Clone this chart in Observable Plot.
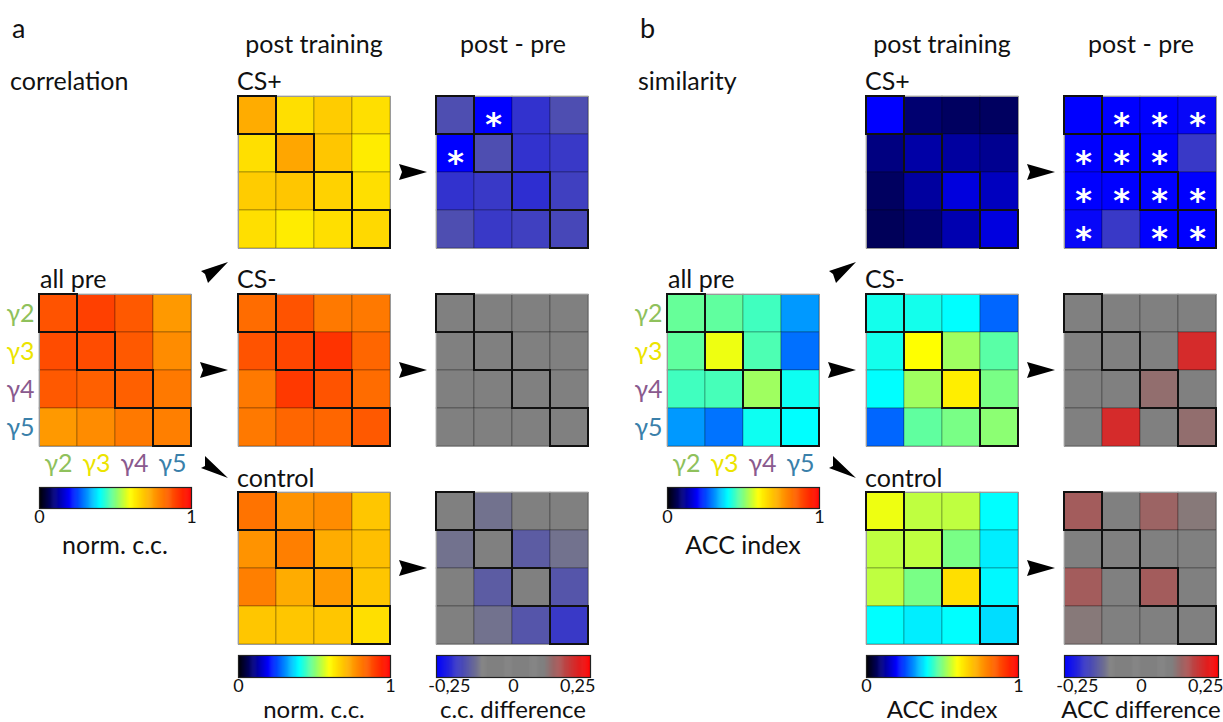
<!DOCTYPE html>
<html>
<head>
<meta charset="utf-8">
<script src="https://cdn.jsdelivr.net/npm/d3@7"></script>
<script src="https://cdn.jsdelivr.net/npm/@observablehq/plot@0.6"></script>
<style>
  html, body { margin: 0; padding: 0; background: #fff; }
  #root { position: relative; width: 1223px; height: 722px; overflow: hidden; font-family: Lato, "Open Sans", sans-serif; color: #111; }
  .abs { position: absolute; }
  .t { position: absolute; line-height: 1; white-space: nowrap; }
</style>
</head>
<body>
<div id="root"></div>
<script>
// ---------------- data ----------------
const gammas = ["γ2", "γ3", "γ4", "γ5"];
const gammaColors = ["#8fc15c", "#ece400", "#8a5a8e", "#3a80aa"];

// panel a: correlation (norm. c.c.)
const corrAllPre = [
  [0.87, 0.90, 0.86, 0.76],
  [0.88, 0.88, 0.86, 0.78],
  [0.86, 0.85, 0.85, 0.81],
  [0.76, 0.78, 0.81, 0.80]
];
const corrCSplus = [
  [0.73, 0.65, 0.68, 0.65],
  [0.65, 0.74, 0.69, 0.63],
  [0.68, 0.69, 0.67, 0.65],
  [0.65, 0.63, 0.65, 0.66]
];
const corrCSminus = [
  [0.83, 0.87, 0.81, 0.81],
  [0.87, 0.89, 0.92, 0.84],
  [0.81, 0.91, 0.87, 0.83],
  [0.81, 0.84, 0.84, 0.86]
];
const corrControl = [
  [0.82, 0.77, 0.78, 0.69],
  [0.77, 0.80, 0.73, 0.70],
  [0.80, 0.73, 0.76, 0.69],
  [0.69, 0.69, 0.69, 0.65]
];
const corrDiffCSplus = [
  [-0.19, -0.32, -0.23, -0.19],
  [-0.32, -0.19, -0.23, -0.22],
  [-0.23, -0.22, -0.235, -0.21],
  [-0.19, -0.22, -0.21, -0.20]
];
const corrDiffCSminus = [
  [0.02, -0.03, 0.01, 0.04],
  [-0.02, 0.03, -0.05, 0.02],
  [0.01, -0.06, 0.02, -0.01],
  [0.03, 0.00, -0.02, 0.04]
];
const corrDiffControl = [
  [0.00, -0.14, -0.05, -0.03],
  [-0.14, -0.08, -0.17, -0.14],
  [-0.04, -0.17, -0.02, -0.18],
  [-0.03, -0.14, -0.18, -0.22]
];
const corrStarsCSplus = [[0, 1], [1, 0]];

// panel b: similarity (ACC index)
const simAllPre = [
  [0.48, 0.475, 0.45, 0.32],
  [0.475, 0.587, 0.46, 0.288],
  [0.45, 0.455, 0.525, 0.41],
  [0.32, 0.29, 0.41, 0.40]
];
const simCSplus = [
  [0.20, 0.088, 0.075, 0.075],
  [0.10, 0.13, 0.125, 0.113],
  [0.075, 0.125, 0.173, 0.15],
  [0.07, 0.088, 0.138, 0.175]
];
const simCSminus = [
  [0.415, 0.415, 0.40, 0.28],
  [0.415, 0.60, 0.525, 0.47],
  [0.40, 0.525, 0.627, 0.495],
  [0.28, 0.475, 0.495, 0.51]
];
const simControl = [
  [0.587, 0.55, 0.55, 0.40],
  [0.55, 0.55, 0.495, 0.387],
  [0.55, 0.495, 0.65, 0.395],
  [0.40, 0.387, 0.40, 0.373]
];
const simDiffCSplus = [
  [-0.32, -0.32, -0.32, -0.29],
  [-0.32, -0.32, -0.32, -0.22],
  [-0.32, -0.32, -0.32, -0.32],
  [-0.29, -0.22, -0.32, -0.32]
];
const simDiffCSminus = [
  [0.02, 0.01, 0.00, 0.03],
  [0.00, 0.05, 0.02, 0.24],
  [0.01, 0.00, 0.145, 0.04],
  [0.00, 0.24, 0.03, 0.145]
];
const simDiffControl = [
  [0.17, 0.05, 0.16, 0.13],
  [0.03, 0.02, 0.06, 0.04],
  [0.17, 0.05, 0.17, 0.08],
  [0.13, 0.06, 0.02, 0.07]
];
const simStarsCSplus = [[0,1],[0,2],[0,3],[1,0],[1,1],[1,2],[2,0],[2,1],[2,2],[2,3],[3,0],[3,2],[3,3]];

const jetTicks = [0, 1];
const diffTicks = [-0.25, 0, 0.25];

// ---------------- scales ----------------
const FONT = 'Lato, "Open Sans", sans-serif';
const jetScale = {
  type: "linear",
  domain: [0, 0.2, 0.4, 0.6, 1],
  range: ["#000000", "#0000ff", "#00ffff", "#ffff00", "#ff0000"],
  interpolate: "rgb",
  clamp: true
};
const diffScale = {
  type: "linear",
  domain: [-0.3, -0.12, 0.12, 0.3],
  range: ["#0000ff", "#808080", "#808080", "#ff0000"],
  interpolate: "rgb",
  clamp: true
};

const root = document.getElementById("root");

function place(el, left, top) {
  el.classList.add("abs");
  el.style.left = left + "px";
  el.style.top = top + "px";
  root.appendChild(el);
}

function text(str, x, y, size, anchor = "start", lh = 1) {
  const d = document.createElement("div");
  d.className = "t";
  d.textContent = str;
  d.style.left = x + "px";
  d.style.top = y + "px";
  d.style.fontSize = size + "px";
  d.style.lineHeight = String(lh);
  d.style.transform = anchor === "middle" ? "translate(-50%,-50%)" : "translate(0,-50%)";
  root.appendChild(d);
}

const SIZE = 152;

function heatmap(vals, scale, left, top, stars = [], labeled = false) {
  const data = vals.flatMap((row, i) => row.map((v, j) => ({row: gammas[i], col: gammas[j], v})));
  const diag = gammas.map(g => ({row: g, col: g}));
  const starData = stars.map(([i, j]) => ({row: gammas[i], col: gammas[j]}));
  const m = 3;
  const mL = labeled ? 44 : m;
  const mB = labeled ? 40 : m;
  const labelMarks = labeled ? [
    ...gammas.map((g, i) => Plot.text([g], {y: d => d, frameAnchor: "left", textAnchor: "end", dx: -5, fill: gammaColors[i], fontSize: 25})),
    ...gammas.map((g, i) => Plot.text([g], {x: d => d, frameAnchor: "bottom", lineAnchor: "top", dy: 8, fill: gammaColors[i], fontSize: 25}))
  ] : [];
  const p = Plot.plot({
    width: SIZE + mL + m,
    height: SIZE + m + mB,
    marginLeft: mL, marginRight: m, marginTop: m, marginBottom: mB,
    x: {type: "band", domain: gammas, padding: 0, axis: null},
    y: {type: "band", domain: gammas, padding: 0, axis: null},
    color: scale,
    style: {fontFamily: FONT, background: "transparent", overflow: "visible"},
    marks: [
      Plot.cell(data, {x: "col", y: "row", fill: "v", inset: 0, stroke: "rgba(0,0,0,0.35)", strokeWidth: 0.8}),
      Plot.frame({stroke: "#9a9a9a", strokeWidth: 1}),
      Plot.cell(diag, {x: "col", y: "row", fill: "none", inset: 0, stroke: "#111", strokeWidth: 2}),
      Plot.text(starData, {x: "col", y: "row", text: () => "*", fill: "white", fontSize: 32, fontWeight: "bold", fontFamily: "DejaVu Sans", dy: 9}),
      ...labelMarks
    ]
  });
  place(p, left - mL, top - m);
}

function fmtTick(d) {
  if (d === 0) return "0";
  if (Number.isInteger(d)) return String(d);
  return (d < 0 ? "-" : "") + Math.abs(d).toFixed(2).replace(".", ",");
}

function colorbar(scale, domain, ticks, left, top, w, h) {
  const n = 160;
  const step = (domain[1] - domain[0]) / n;
  const stops = d3.range(n).map(i => domain[0] + i * step);
  const mS = 24;
  const p = Plot.plot({
    width: w + 2 * mS, height: h + 30,
    marginLeft: mS, marginRight: mS, marginTop: 1, marginBottom: 29,
    x: {domain, ticks, tickSize: 0, tickPadding: 2, tickFormat: fmtTick, label: null},
    y: {domain: [0, 1], axis: null},
    color: scale,
    style: {fontFamily: FONT, fontSize: "18px", color: "#111", background: "transparent", overflow: "visible"},
    marks: [
      Plot.rect(stops, {x1: d => d, x2: d => Math.min(d + step * 1.6, domain[1]), y1: 0, y2: 1, fill: d => d + step / 2}),
      Plot.frame({stroke: "#222", strokeWidth: 1.2})
    ]
  });
  place(p, left - mS, top - 1);
}

function arrows(ox) {
  const ns = "http://www.w3.org/2000/svg";
  const svg = document.createElementNS(ns, "svg");
  svg.setAttribute("width", 1223);
  svg.setAttribute("height", 722);
  svg.style.position = "absolute";
  svg.style.left = "0px";
  svg.style.top = "0px";
  const right = (x, y) => `${x},${y - 8} ${x + 28},${y} ${x},${y + 8} ${x + 3},${y}`;
  const shapes = [
    right(ox + 200, 370),
    right(ox + 399, 172),
    right(ox + 399, 370),
    right(ox + 399, 568),
    `${ox + 228},${262} ${ox + 201},${271} ${ox + 205},${274} ${ox + 208},${283}`,
    `${ox + 228},${478} ${ox + 201},${468} ${ox + 205},${466} ${ox + 205},${456}`
  ];
  for (const pts of shapes) {
    const poly = document.createElementNS(ns, "polygon");
    poly.setAttribute("points", pts);
    poly.setAttribute("fill", "#000");
    svg.appendChild(poly);
  }
  root.appendChild(svg);
}

function panel(ox, letter, title, allPre, csPlus, csMinus, control, dPlus, dMinus, dControl, stars, barLabel, diffLabel) {
  text(letter, ox + 12, 27, 27);
  text("post training", ox + 314, 43, 25, "middle");
  text("post - pre", ox + 513, 43, 25, "middle");
  text(title, ox + 10, 80, 25);
  text("CS+", ox + 237, 80, 25);
  text("all pre", ox + 40, 278, 25);
  text("CS-", ox + 237, 278, 25);
  text("control", ox + 237, 477, 25);

  heatmap(allPre, jetScale, ox + 39, 294, [], true);
  heatmap(csPlus, jetScale, ox + 238, 96);
  heatmap(csMinus, jetScale, ox + 238, 294);
  heatmap(control, jetScale, ox + 238, 492);
  heatmap(dPlus, diffScale, ox + 436, 96, stars);
  heatmap(dMinus, diffScale, ox + 436, 294);
  heatmap(dControl, diffScale, ox + 436, 492);

  colorbar(jetScale, [0, 1], jetTicks, ox + 39, 487, 152, 21);
  colorbar(jetScale, [0, 1], jetTicks, ox + 238, 655, 152, 22);
  colorbar(diffScale, [-0.3, 0.3], diffTicks, ox + 436, 655, 154, 22);

  text(barLabel, ox + 115, 544, 25, "middle");
  text(barLabel, ox + 314, 709, 24, "middle", 0.9);
  text(diffLabel, ox + 513, 709, 24, "middle", 0.9);
  arrows(ox);
}

panel(0, "a", "correlation", corrAllPre, corrCSplus, corrCSminus, corrControl,
      corrDiffCSplus, corrDiffCSminus, corrDiffControl, corrStarsCSplus, "norm. c.c.", "c.c. difference");
panel(628, "b", "similarity", simAllPre, simCSplus, simCSminus, simControl,
      simDiffCSplus, simDiffCSminus, simDiffControl, simStarsCSplus, "ACC index", "ACC difference");
</script>
</body>
</html>
